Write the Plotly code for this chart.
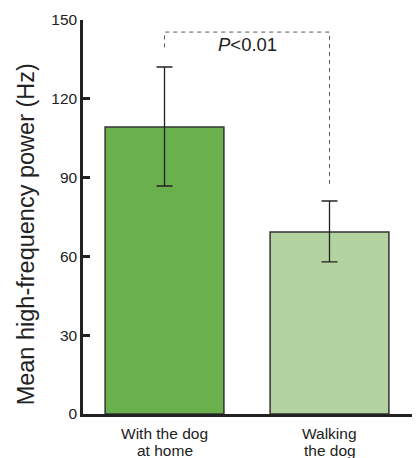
import plotly.graph_objects as go

# Data
categories = ["With the dog at home", "Walking the dog"]
label_lines = [["With the dog", "at home"], ["Walking", "the dog"]]
means = [109.3, 69.3]
err_upper = [132.1, 81.1]
err_lower = [86.8, 57.9]
bar_colors = ["#6ab04c", "#b3d3a0"]
y_ticks = [0, 30, 60, 90, 120, 150]

# Significance bracket levels
bracket_top = 145.4
bracket_left_base = 139.6
bracket_right_base = 87.2
p_label = "<i>P</i>&lt;0.01"

x_pos = list(range(len(categories)))
plus = [u - m for u, m in zip(err_upper, means)]
minus = [m - l for m, l in zip(means, err_lower)]

font_family = "Liberation Sans, Arial, sans-serif"
text_color = "#222222"

fig = go.Figure()
fig.add_trace(go.Bar(
    x=x_pos,
    y=means,
    width=0.72,
    marker=dict(color=bar_colors, line=dict(color="#333333", width=1.5)),
    error_y=dict(type="data", symmetric=False, array=plus, arrayminus=minus,
                 color="#222222", thickness=1.3, width=8),
    hoverinfo="skip",
))

# dashed bracket between the two bars
fig.add_shape(
    type="path",
    path=(f"M {x_pos[0]},{bracket_left_base} L {x_pos[0]},{bracket_top} "
          f"L {x_pos[1]},{bracket_top} L {x_pos[1]},{bracket_right_base}"),
    xref="x", yref="y",
    line=dict(color="#5a5a5a", width=1, dash="4px,4px"),
)
fig.add_annotation(
    x=(x_pos[0] + x_pos[1]) / 2, y=140.7, xref="x", yref="y",
    text=p_label, showarrow=False, xanchor="center", yanchor="middle",
    font=dict(size=18.5, color=text_color, family=font_family),
)

# two-line category labels below the axis
for xp, lines in zip(x_pos, label_lines):
    for i, line in enumerate(lines):
        fig.add_annotation(
            x=xp, y=-0.05 - 0.043 * i, xref="x", yref="paper",
            text=line, showarrow=False, xanchor="center", yanchor="middle",
            font=dict(size=15.5, color=text_color, family=font_family),
        )

# y-axis title
fig.add_annotation(
    x=-0.172, y=0.457, xref="paper", yref="paper",
    text="Mean high-frequency power (Hz)", showarrow=False,
    textangle=-90, xanchor="center", yanchor="middle",
    font=dict(size=23.5, color=text_color, family=font_family),
)

fig.update_layout(
    width=419, height=458,
    margin=dict(l=83, r=7, t=20, b=44),
    paper_bgcolor="white", plot_bgcolor="white",
    showlegend=False,
    font=dict(family=font_family, color=text_color),
)
fig.update_xaxes(
    range=[-0.494, 1.5], showgrid=False, zeroline=False,
    showline=True, linecolor="#222222", linewidth=2.5,
    tickvals=[], showticklabels=False,
)
fig.update_yaxes(
    range=[0, 150], tickvals=y_ticks, showgrid=False, zeroline=False,
    showline=True, linecolor="#222222", linewidth=2.5,
    ticks="inside", ticklen=7, tickwidth=2.5, tickcolor="#222222",
    tickfont=dict(size=15.5, color=text_color, family=font_family),
)

fig.write_html("out.html")
